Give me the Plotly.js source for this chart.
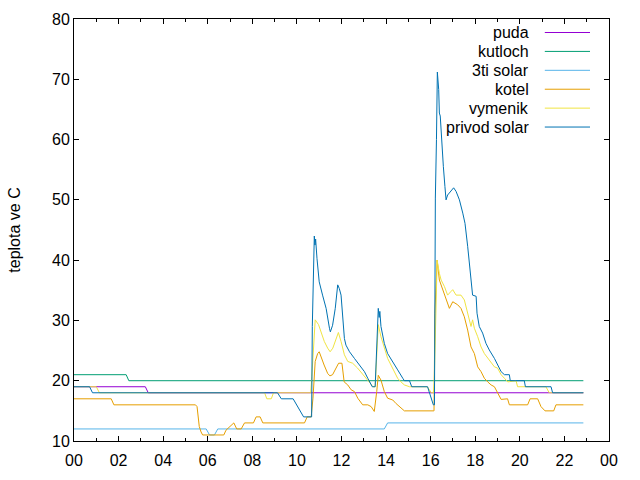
<!DOCTYPE html>
<html>
<head>
<meta charset="utf-8">
<script src="https://cdn.plot.ly/plotly-3.0.1.min.js"></script>
<style>html,body{margin:0;padding:0;background:#fff}#chart{width:640px;height:480px}</style>
</head>
<body>
<div id="chart"></div>
<script>
// ---- data (time in hours of day, temperature in °C) ----
const seriesNames = ["puda", "kutloch", "3ti solar", "kotel", "vymenik", "privod solar"];
const seriesColors = ["#9400d3", "#009e73", "#56b4e9", "#e69f00", "#f0e442", "#0072b2"];

const pudaT = [0, 3.2, 3.33, 22.85];
const pudaV = [19, 19, 18, 18];

const kutlochT = [0, 2.34, 2.46, 22.85];
const kutlochV = [21, 21, 20, 20];

const solar3T = [0, 5.93, 6.08, 6.3, 6.45, 13.92, 14.07, 22.85];
const solar3V = [12, 12, 11, 11, 12, 12, 13, 13];

const kotelT = [0, 1.67, 1.79, 5.45, 5.52, 5.57, 5.62, 5.70, 5.77, 6.72,
  6.82, 7.17, 7.30, 7.50, 7.65, 8.05, 8.17, 8.35, 8.47, 10.34,
  10.46, 10.64, 10.68, 10.72, 10.82, 10.93, 11.0, 11.07, 11.22, 11.38,
  11.48, 11.6, 11.75, 11.87, 12.02, 12.12, 12.28, 12.43, 12.58, 12.73,
  12.95, 13.18, 13.33, 13.47, 13.58, 13.65, 13.77, 13.85, 13.92, 14.07,
  14.3, 14.45, 14.67, 14.82, 16.12, 16.15, 16.19, 16.29, 16.39, 16.54,
  16.69, 16.84, 16.99, 17.21, 17.36, 17.51, 17.66, 17.81, 17.96, 18.11,
  18.26, 18.41, 18.56, 18.71, 18.86, 19.0, 19.16, 19.45, 19.53, 20.35,
  20.46, 20.8, 20.95, 21.13, 21.52, 21.62, 22.85];
const kotelV = [17, 17, 16, 16, 15.7, 13.8, 12.4, 11.5, 11, 11,
  11.8, 13, 12, 12, 13, 13, 14, 14, 13, 13,
  14, 14, 15.7, 17.1, 23.2, 24.5, 24.8, 24, 22.6, 21.2,
  20.8, 21, 22.1, 22.9, 22.9, 19.8, 19.3, 18.5, 18.2, 17.1,
  16, 16, 15.7, 14.9, 18.2, 20.9, 20.1, 19, 18.2, 17.1,
  16.8, 16.2, 15.4, 15, 15, 15, 31.2, 40, 36.7, 35.1,
  33.4, 32, 33.1, 32.6, 32, 30.6, 28.4, 25.6, 24.5, 22.3,
  21.5, 20.4, 19.8, 19.3, 19, 17.9, 16.9, 17, 16, 16,
  17, 17, 15.7, 15, 15, 16, 16];

const vymenikT = [0, 1.0, 1.14, 8.55, 8.65, 8.85, 8.95, 10.62, 10.67, 10.74,
  10.82, 10.97, 11.08, 11.23, 11.38, 11.49, 11.61, 11.76, 11.86, 11.98,
  12.13, 12.28, 12.5, 12.72, 12.95, 13.17, 13.33, 13.4, 13.51, 13.6,
  13.65, 13.77, 13.92, 14.07, 14.22, 14.37, 14.52, 14.67, 14.82, 15.05,
  15.85, 16.03, 16.12, 16.16, 16.29, 16.39, 16.47, 16.62, 16.76, 16.91,
  16.99, 17.14, 17.36, 17.51, 17.66, 17.81, 17.88, 17.96, 18.11, 18.26,
  18.41, 18.63, 18.86, 19.0, 19.16, 19.31, 19.46, 19.83, 19.9, 21.17,
  21.32, 22.85];
const vymenikV = [19, 19, 18, 18, 17, 17, 18, 18, 20.7, 25,
  30.1, 29.3, 28.1, 26.5, 25.4, 24.8, 25.4, 27.0, 28.0, 26.5,
  24.3, 23.2, 22.9, 22.1, 21, 20.1, 19.4, 19, 19, 25,
  29.3, 27.3, 25.6, 23.7, 22.6, 21.5, 20.4, 19.8, 19.3, 19,
  19, 18, 18, 19.6, 40, 37.8, 36.7, 35.6, 34.2, 34.8,
  35.1, 34.2, 34.2, 33.4, 31.2, 29, 30.1, 28.7, 27.3, 25.6,
  24.5, 23.4, 22.3, 22.1, 21, 20.4, 19.8, 20, 19, 19,
  18, 18];

const privodT = [0, 0.7, 0.83, 9.13, 9.3, 9.83, 10.3, 10.66, 10.69, 10.78,
  10.81, 10.84, 10.9, 11.0, 11.15, 11.31, 11.46, 11.5, 11.6, 11.72,
  11.83, 11.9, 11.98, 12.05, 12.13, 12.2, 12.36, 12.58, 12.8, 13.03,
  13.18, 13.33, 13.38, 13.51, 13.57, 13.65, 13.69, 13.72, 13.77, 13.92,
  14.07, 14.3, 14.52, 14.75, 14.82, 15.05, 15.15, 15.86, 16.12, 16.17,
  16.21, 16.26, 16.3, 16.36, 16.39, 16.43, 16.49, 16.57, 16.64, 16.69,
  16.76, 16.91, 17.03, 17.14, 17.29, 17.44, 17.54, 17.66, 17.74, 17.81,
  17.88, 18.04, 18.08, 18.18, 18.33, 18.48, 18.63, 18.86, 19.0, 19.16,
  19.31, 19.53, 19.57, 20.2, 20.25, 21.4, 21.47, 22.85];
const privodV = [19, 19, 18, 18, 17, 17, 14, 14, 29, 44,
  42.5, 43.5, 40.3, 36.4, 34.2, 32, 28.7, 28.1, 29.2, 32,
  35.9, 35.3, 34.2, 30.9, 27.0, 25.9, 24.8, 23.7, 22.6, 21.5,
  20.4, 19.3, 19, 19, 25, 32, 30.5, 31.5, 29, 26.2,
  24.5, 23.2, 21.8, 20.4, 20, 20, 19, 19, 16, 16,
  50.3, 60, 71.2, 68.3, 64.4, 63.9, 59.4, 55.5, 52.2, 50,
  50.8, 51.4, 52, 51.4, 50, 47.8, 46.1, 42.3, 39.5, 36.7,
  34.2, 34, 31.2, 29, 27.9, 26.2, 25.1, 23.7, 22.6, 21.5,
  21, 21, 20, 20, 19, 19, 18, 18];

const yTitle = "teplota ve C";

// ---- build ----
const DAY0 = Date.UTC(2000, 0, 1);
const toDate = h => DAY0 + h * 3600000;
const allT = [pudaT, kutlochT, solar3T, kotelT, vymenikT, privodT];
const allV = [pudaV, kutlochV, solar3V, kotelV, vymenikV, privodV];

const FONT = "Liberation Sans, Arial, sans-serif";
const traces = seriesNames.map((n, i) => ({
  type: "scatter", mode: "lines", name: n,
  x: allT[i].map(toDate), y: allV[i],
  line: {color: seriesColors[i], width: 1},
  hoverinfo: "skip", showlegend: false
}));

// gnuplot-style key: right-aligned text, line sample to the right
const keyTop = 0.968, keyStep = 0.0448;
const annotations = seriesNames.map((n, i) => ({
  xref: "paper", yref: "paper", x: 0.854, y: keyTop - i * keyStep,
  xanchor: "right", yanchor: "middle", text: n, showarrow: false,
  font: {family: FONT, size: 16, color: "#000"}
}));
const shapes = seriesNames.map((n, i) => ({
  type: "line", xref: "paper", yref: "paper",
  x0: 0.880, x1: 0.9645, y0: keyTop - i * keyStep, y1: keyTop - i * keyStep,
  line: {color: seriesColors[i], width: 1}
}));

const layout = {
  width: 640, height: 480,
  margin: {l: 74, r: 31, t: 19, b: 39},
  paper_bgcolor: "#fff", plot_bgcolor: "#fff",
  font: {family: FONT, size: 16, color: "#000"},
  showlegend: false,
  xaxis: {
    type: "date",
    range: [toDate(0), toDate(24)],
    tick0: toDate(0), dtick: 7200000, tickformat: "%H",
    ticks: "inside", ticklen: 5, tickcolor: "#000", tickwidth: 1,
    minor: {dtick: 3600000, ticks: "inside", ticklen: 3, tickcolor: "#000", tickwidth: 1, showgrid: false},
    showline: true, linecolor: "#000", linewidth: 1, mirror: "allticks",
    showgrid: false, zeroline: false, ticklabelstandoff: 5,
    tickfont: {family: FONT, size: 16, color: "#000"}
  },
  yaxis: {
    range: [10, 80], dtick: 10, tick0: 0,
    ticks: "inside", ticklen: 5, tickcolor: "#000", tickwidth: 1,
    showline: true, linecolor: "#000", linewidth: 1, mirror: "allticks",
    showgrid: false, zeroline: false,
    tickfont: {family: FONT, size: 16, color: "#000"},
    title: {text: yTitle, font: {family: FONT, size: 16, color: "#000"}, standoff: 27}
  },
  annotations: annotations,
  shapes: shapes
};

Plotly.newPlot("chart", traces, layout, {staticPlot: true, displayModeBar: false});
</script>
</body>
</html>
